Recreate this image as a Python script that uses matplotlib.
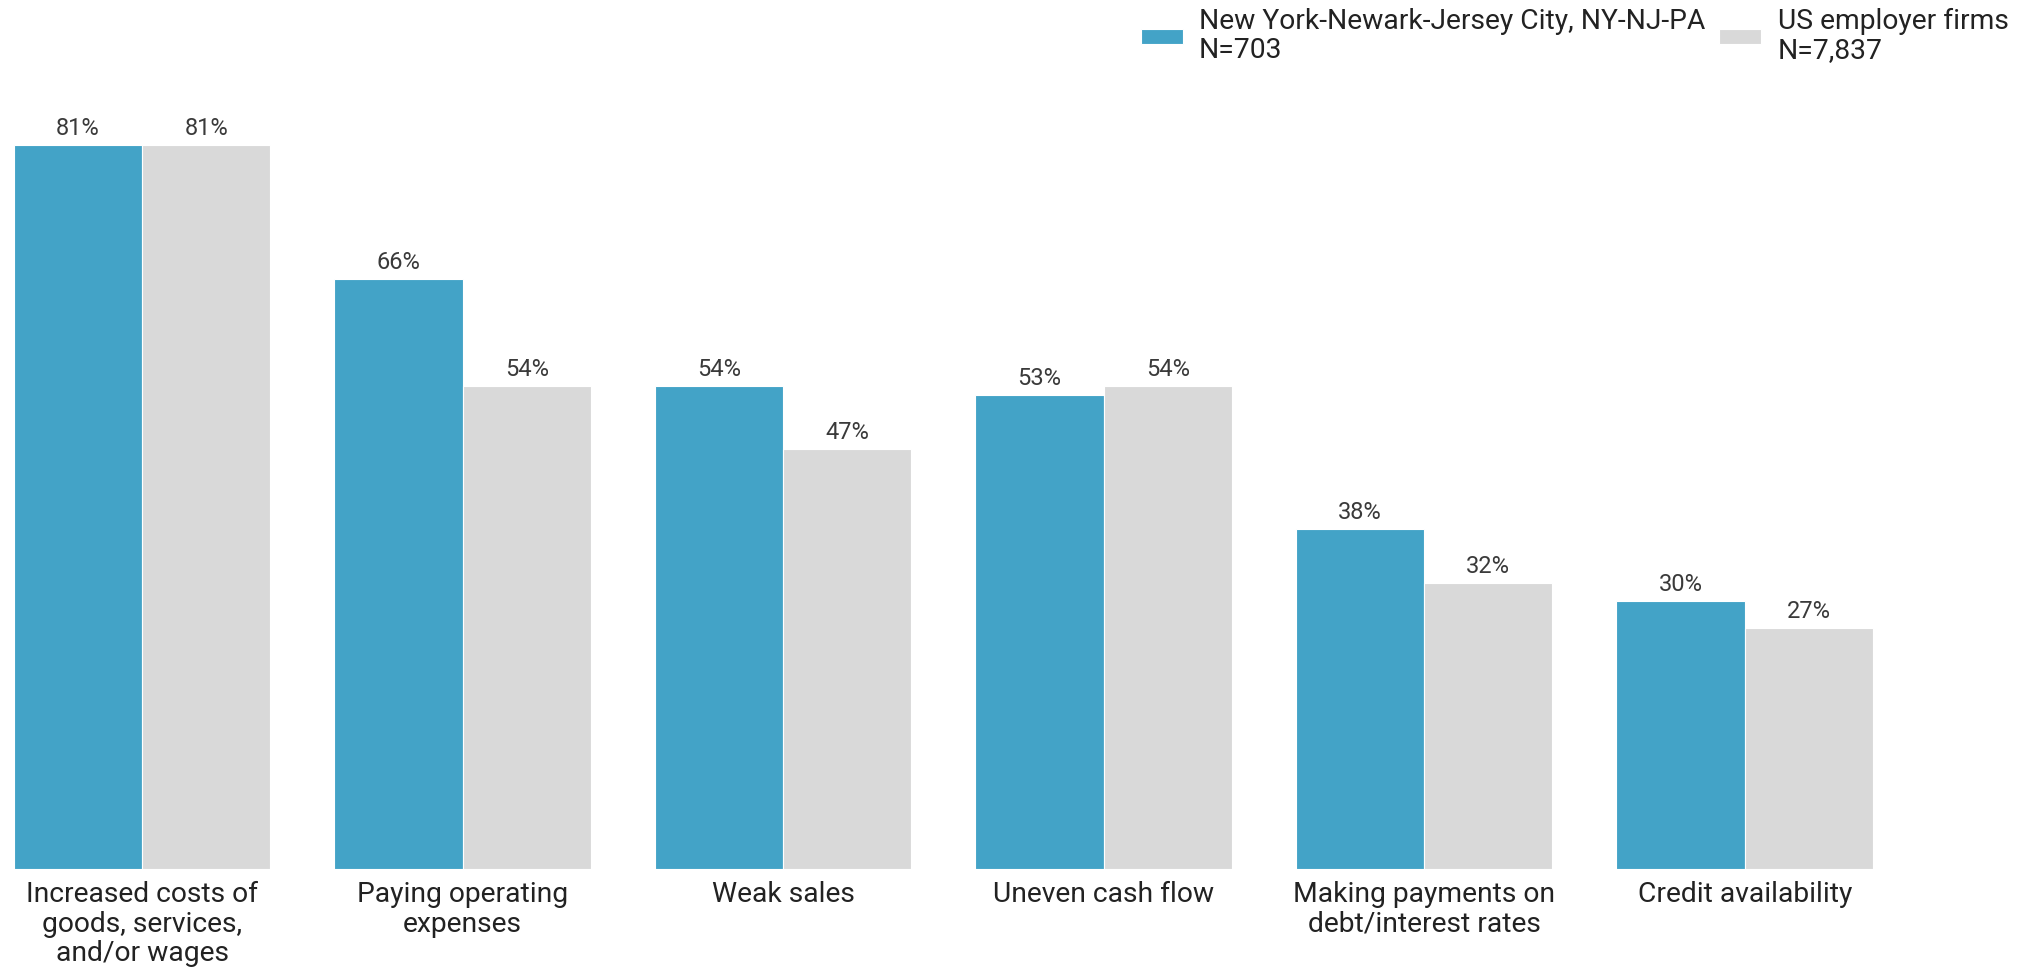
import matplotlib.pyplot as plt
import numpy as np

plt.rcParams['font.family'] = ['Roboto', 'DejaVu Sans']

# Data
categories = ["Increased costs of\ngoods, services,\nand/or wages",
              "Paying operating\nexpenses",
              "Weak sales",
              "Uneven cash flow",
              "Making payments on\ndebt/interest rates",
              "Credit availability"]
ny_values = [81, 66, 54, 53, 38, 30]
us_values = [81, 54, 47, 54, 32, 27]
series_names = ["New York-Newark-Jersey City, NY-NJ-PA\nN=703",
                "US employer firms\nN=7,837"]

blue = '#43a3c7'
grey = '#d9d9d9'
text_col = '#3a3a3a'

W, H = 2034, 968
fig = plt.figure(figsize=(W / 100, H / 100), dpi=100)
ax = fig.add_axes([0, 99 / H, 1, 809 / H])

x = np.arange(len(categories))
w = 0.4
b1 = ax.bar(x - w / 2, ny_values, w, color=blue, edgecolor='white', linewidth=0.8, label=series_names[0])
b2 = ax.bar(x + w / 2, us_values, w, color=grey, edgecolor='white', linewidth=0.8, label=series_names[1])

for bars, vals in [(b1, ny_values), (b2, us_values)]:
    for rect, v in zip(bars, vals):
        ax.text(rect.get_x() + rect.get_width() / 2, v + 0.55, f"{v}%",
                ha='center', va='bottom', fontsize=17, color=text_col)

ax.set_xlim(-142.2 / 320.5, (W - 142.2) / 320.5)
ax.set_ylim(0, 809 / 8.94)
ax.set_xticks(x)
ax.set_xticklabels(categories, fontsize=20.3, color='#222222', linespacing=1.1)
ax.tick_params(axis='x', length=0, pad=9)
ax.set_yticks([])
for s in ax.spines.values():
    s.set_visible(False)

leg = fig.legend(handles=[b1, b2], labels=series_names, loc='upper left',
                 bbox_to_anchor=(1141 / W, 1 - 8 / H), ncol=2, frameon=False,
                 fontsize=20.3, handlelength=1.49, handleheight=0.4, handletextpad=0.57,
                 columnspacing=0.5, borderpad=0, borderaxespad=0, labelcolor='#222222')
for t in leg.get_texts():
    t.set_linespacing(1.1)

fig.savefig('out.png', dpi=100)
